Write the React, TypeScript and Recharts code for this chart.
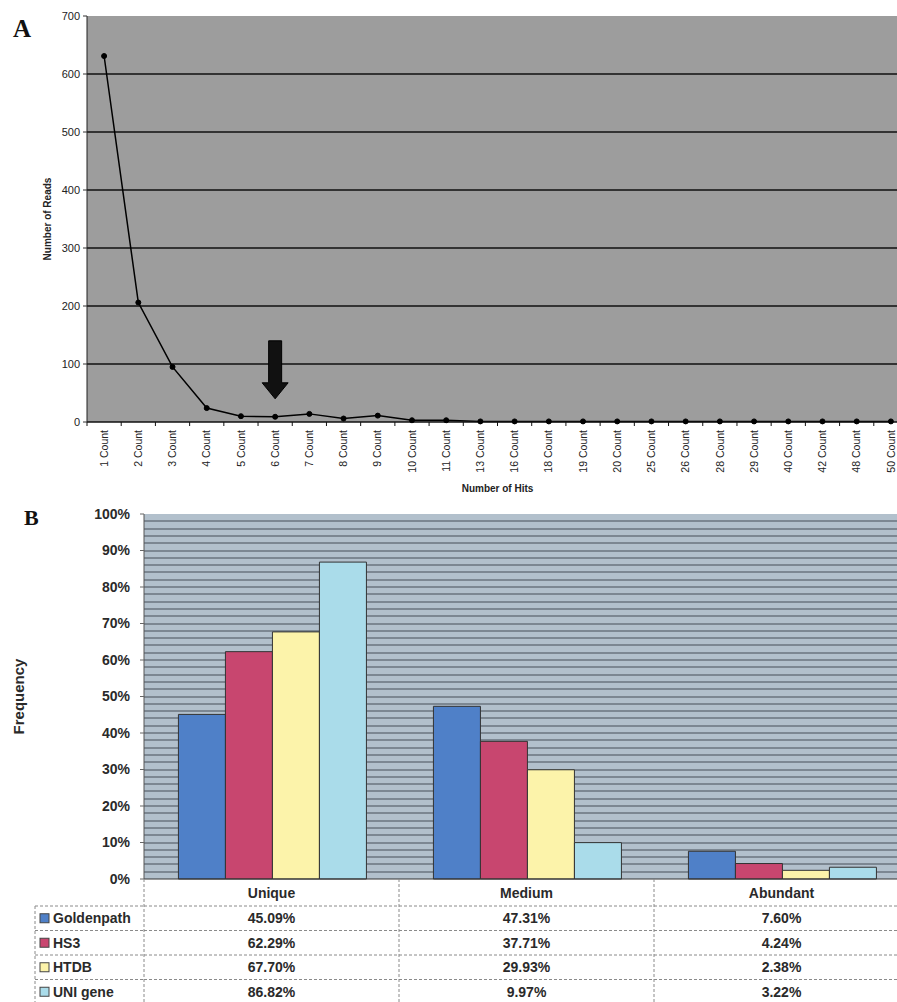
import React from 'react';
import {
  ComposedChart,
  Line,
  BarChart,
  Bar,
  XAxis,
  YAxis,
  CartesianGrid,
  ReferenceDot,
} from 'recharts';

if (typeof document !== 'undefined') {
  document.body.style.margin = '0';
  document.body.style.overflow = 'hidden';
}

// ---------- Panel A data ----------
const hitCategories = [
  '1 Count', '2 Count', '3 Count', '4 Count', '5 Count', '6 Count', '7 Count', '8 Count',
  '9 Count', '10 Count', '11 Count', '13 Count', '16 Count', '18 Count', '19 Count',
  '20 Count', '25 Count', '26 Count', '28 Count', '29 Count', '40 Count', '42 Count',
  '48 Count', '50 Count',
];
const readCounts = [631, 206, 95, 24, 10, 9, 14, 6, 11, 3, 3, 1, 1, 1, 1, 1, 1, 1, 1, 1, 1, 1, 1, 1];
const readTicks = [0, 100, 200, 300, 400, 500, 600, 700];
const readGridTicks = [100, 200, 300, 400, 500, 600];
const arrowCategory = '6 Count';
const arrowTopValue = 140;

// ---------- Panel B data ----------
const abundanceCategories = ['Unique', 'Medium', 'Abundant'];
const seriesNames = ['Goldenpath', 'HS3', 'HTDB', 'UNI gene'];
const goldenpath = [45.09, 47.31, 7.6];
const hs3 = [62.29, 37.71, 4.24];
const htdb = [67.7, 29.93, 2.38];
const unigene = [86.82, 9.97, 3.22];
const seriesValues = [goldenpath, hs3, htdb, unigene];
const seriesKeys = ['goldenpath', 'hs3', 'htdb', 'unigene'];
const seriesColors = ['#4f80c8', '#c8466f', '#fcf3aa', '#aadcea'];
const freqTicks = [0, 10, 20, 30, 40, 50, 60, 70, 80, 90, 100];
const freqGridTicks = Array.from({ length: 49 }, (_, i) => (i + 1) * 2);

const hitData = hitCategories.map((c, i) => ({ hits: c, reads: readCounts[i] }));
const abundanceData = abundanceCategories.map((c, i) => {
  const row: any = { category: c };
  seriesKeys.forEach((k, s) => (row[k] = seriesValues[s][i]));
  return row;
});

// ---------- layout ----------
const FONT = '"Liberation Sans", Arial, Helvetica, sans-serif';
const W_A = 909;
const H_A = 496;
const YW_A = 87;
const BAND_A = (W_A - YW_A - 1) / hitCategories.length;

const W_B = 909;
const H_B = 508;
const YW_B = 144;
const BAND_B = (W_B - YW_B) / abundanceCategories.length;
const HEADER_H = 27;
const ROW_H = 24.5;
const LEGEND_W = 109;
const DASH = '3 2';
const TABLE_STROKE = '#8a8a8a';

const HitTick = (props: any) => {
  const { x, y, payload } = props;
  const half = BAND_A / 2;
  const last = payload.index === hitCategories.length - 1;
  return (
    <g>
      <line x1={x - half} x2={x - half} y1={y} y2={y + 4} stroke="#111" />
      {last && <line x1={x + half} x2={x + half} y1={y} y2={y + 4} stroke="#111" />}
      <text
        x={x}
        y={y + 8}
        transform={`rotate(-90, ${x}, ${y + 8})`}
        textAnchor="end"
        dy="0.35em"
        fontSize={10.5}
        fontFamily={FONT}
        fill="#222"
      >
        {payload.value}
      </text>
    </g>
  );
};

const ArrowShape = (props: any) => {
  const { cx, cy } = props;
  if (cx == null || cy == null) return null;
  const sw = 6.5;
  const hw = 13;
  const shaftEnd = cy + 42;
  const tip = cy + 58;
  const pts = [
    [cx - sw, cy], [cx + sw, cy], [cx + sw, shaftEnd], [cx + hw, shaftEnd],
    [cx, tip], [cx - hw, shaftEnd], [cx - sw, shaftEnd],
  ].map((p) => p.join(',')).join(' ');
  return <polygon points={pts} fill="#111" stroke="#000" strokeWidth={1} />;
};

const TableTick = (props: any) => {
  const { x, y, payload } = props;
  const idx = payload.index;
  const half = BAND_B / 2;
  const left = x - half;
  const right = x + half;
  const top = y;
  const hb = top + HEADER_H;
  const bottom = hb + ROW_H * seriesNames.length;
  const rowTops = seriesNames.map((_, r) => hb + ROW_H * r);
  return (
    <g>
      <line x1={left} x2={left} y1={top} y2={bottom} stroke={TABLE_STROKE} strokeDasharray={DASH} />
      <text x={x} y={top + HEADER_H / 2} dy="0.36em" textAnchor="middle" fontSize={14} fontWeight="bold" fontFamily={FONT} fill="#2a2a2a">
        {payload.value}
      </text>
      {rowTops.map((ry, r) => (
        <g key={r}>
          <line x1={left} x2={right} y1={ry} y2={ry} stroke={TABLE_STROKE} strokeDasharray={DASH} />
          <text x={x} y={ry + ROW_H / 2} dy="0.36em" textAnchor="middle" fontSize={14} fontWeight="bold" fontFamily={FONT} fill="#2a2a2a">
            {`${seriesValues[r][idx].toFixed(2)}%`}
          </text>
        </g>
      ))}
      {idx === 0 && (
        <g>
          <line x1={left - LEGEND_W} x2={left - LEGEND_W} y1={hb} y2={bottom} stroke={TABLE_STROKE} strokeDasharray={DASH} />
          {rowTops.map((ry, r) => (
            <g key={r}>
              <line x1={left - LEGEND_W} x2={left} y1={ry} y2={ry} stroke={TABLE_STROKE} strokeDasharray={DASH} />
              <rect x={left - LEGEND_W + 5} y={ry + ROW_H / 2 - 4.5} width={9} height={9} fill={seriesColors[r]} stroke="#444" strokeWidth={1} />
              <text x={left - LEGEND_W + 18} y={ry + ROW_H / 2} dy="0.36em" fontSize={14} fontWeight="bold" fontFamily={FONT} fill="#2a2a2a">
                {seriesNames[r]}
              </text>
            </g>
          ))}
        </g>
      )}
    </g>
  );
};

const ReadsLabel = (props: any) => {
  const vb = props.viewBox || {};
  const cy = (vb.y || 0) + (vb.height || 0) / 2;
  const cx = 47;
  return (
    <text x={cx} y={cy} transform={`rotate(-90, ${cx}, ${cy})`} textAnchor="middle" dy="0.35em" fontSize={10} fontWeight="bold" fontFamily={FONT} fill="#222">
      Number of Reads
    </text>
  );
};

const HitsLabel = (props: any) => {
  const vb = props.viewBox || {};
  const cx = (vb.x || 0) + (vb.width || 0) / 2;
  return (
    <text x={cx} y={(vb.y || 0) + 70} textAnchor="middle" fontSize={10} fontWeight="bold" fontFamily={FONT} fill="#222">
      Number of Hits
    </text>
  );
};

const FreqLabel = (props: any) => {
  const vb = props.viewBox || {};
  const cy = (vb.y || 0) + (vb.height || 0) / 2;
  const cx = 19;
  return (
    <text x={cx} y={cy} transform={`rotate(-90, ${cx}, ${cy})`} textAnchor="middle" dy="0.35em" fontSize={15} fontWeight="bold" fontFamily={FONT} fill="#2a2a2a">
      Frequency
    </text>
  );
};

export default function App() {
  return (
    <div style={{ position: 'relative', width: 897, height: 1002, overflow: 'hidden', background: '#fff' }}>
      <div style={{ position: 'absolute', left: 0, top: 0 }}>
        <ComposedChart width={W_A} height={H_A} data={hitData} margin={{ top: 16, right: 1, left: 0, bottom: 0 }}>
          <CartesianGrid
            vertical={false}
            horizontalValues={readGridTicks}
            fill="#9d9d9d"
            stroke="#111"
            strokeWidth={1.6}
          />
          <XAxis
            dataKey="hits"
            scale="band"
            interval={0}
            height={H_A - 16 - 406}
            tickSize={0}
            tickMargin={0}
            tickLine={false}
            tick={HitTick}
            axisLine={{ stroke: '#111', strokeWidth: 1.5 }}
            label={HitsLabel}
          />
          <YAxis
            domain={[0, 700]}
            ticks={readTicks}
            interval={0}
            width={YW_A}
            tickSize={4}
            tickMargin={3}
            tick={{ fontSize: 11, fontFamily: FONT, fill: '#222' }}
            tickLine={{ stroke: '#333' }}
            axisLine={{ stroke: '#222' }}
            label={ReadsLabel}
          />
          <Line
            dataKey="reads"
            stroke="#000"
            strokeWidth={1.5}
            dot={{ r: 2.5, fill: '#000', stroke: '#000', strokeWidth: 1 }}
            isAnimationActive={false}
          />
          <ReferenceDot x={arrowCategory} y={arrowTopValue} r={0} shape={ArrowShape} ifOverflow="visible" />
        </ComposedChart>
      </div>

      <div style={{ position: 'absolute', left: 0, top: H_A }}>
        <BarChart
          width={W_B}
          height={H_B}
          data={abundanceData}
          margin={{ top: 18, right: 0, left: 0, bottom: 0 }}
          barCategoryGap="13.5%"
          barGap={0}
        >
          <CartesianGrid
            vertical={false}
            horizontalValues={freqGridTicks}
            fill="#b2c0cc"
            stroke="#7c8792"
            strokeWidth={2}
            shapeRendering="crispEdges"
          />
          <XAxis
            dataKey="category"
            interval={0}
            height={125}
            tickSize={0}
            tickMargin={0}
            tickLine={false}
            tick={TableTick}
            axisLine={{ stroke: '#333', strokeWidth: 1.2 }}
          />
          <YAxis
            domain={[0, 100]}
            ticks={freqTicks}
            interval={0}
            width={YW_B}
            tickSize={4}
            tickMargin={10}
            tickFormatter={(v: number) => `${v}%`}
            tick={{ fontSize: 14, fontWeight: 'bold', fontFamily: FONT, fill: '#2a2a2a' }}
            tickLine={{ stroke: '#666' }}
            axisLine={{ stroke: '#555' }}
            label={FreqLabel}
          />
          {seriesKeys.map((k, i) => (
            <Bar key={k} dataKey={k} name={seriesNames[i]} fill={seriesColors[i]} stroke="#333" strokeWidth={1} isAnimationActive={false} />
          ))}
        </BarChart>
      </div>

      <svg width={897} height={1002} style={{ position: 'absolute', left: 0, top: 0, pointerEvents: 'none' }}>
        <text x={13} y={37} fontSize={25} fontWeight="bold" fontFamily='"Liberation Serif", "Times New Roman", serif' fill="#111">A</text>
        <text x={24} y={525} fontSize={22} fontWeight="bold" fontFamily='"Liberation Serif", "Times New Roman", serif' fill="#111">B</text>
      </svg>
    </div>
  );
}
